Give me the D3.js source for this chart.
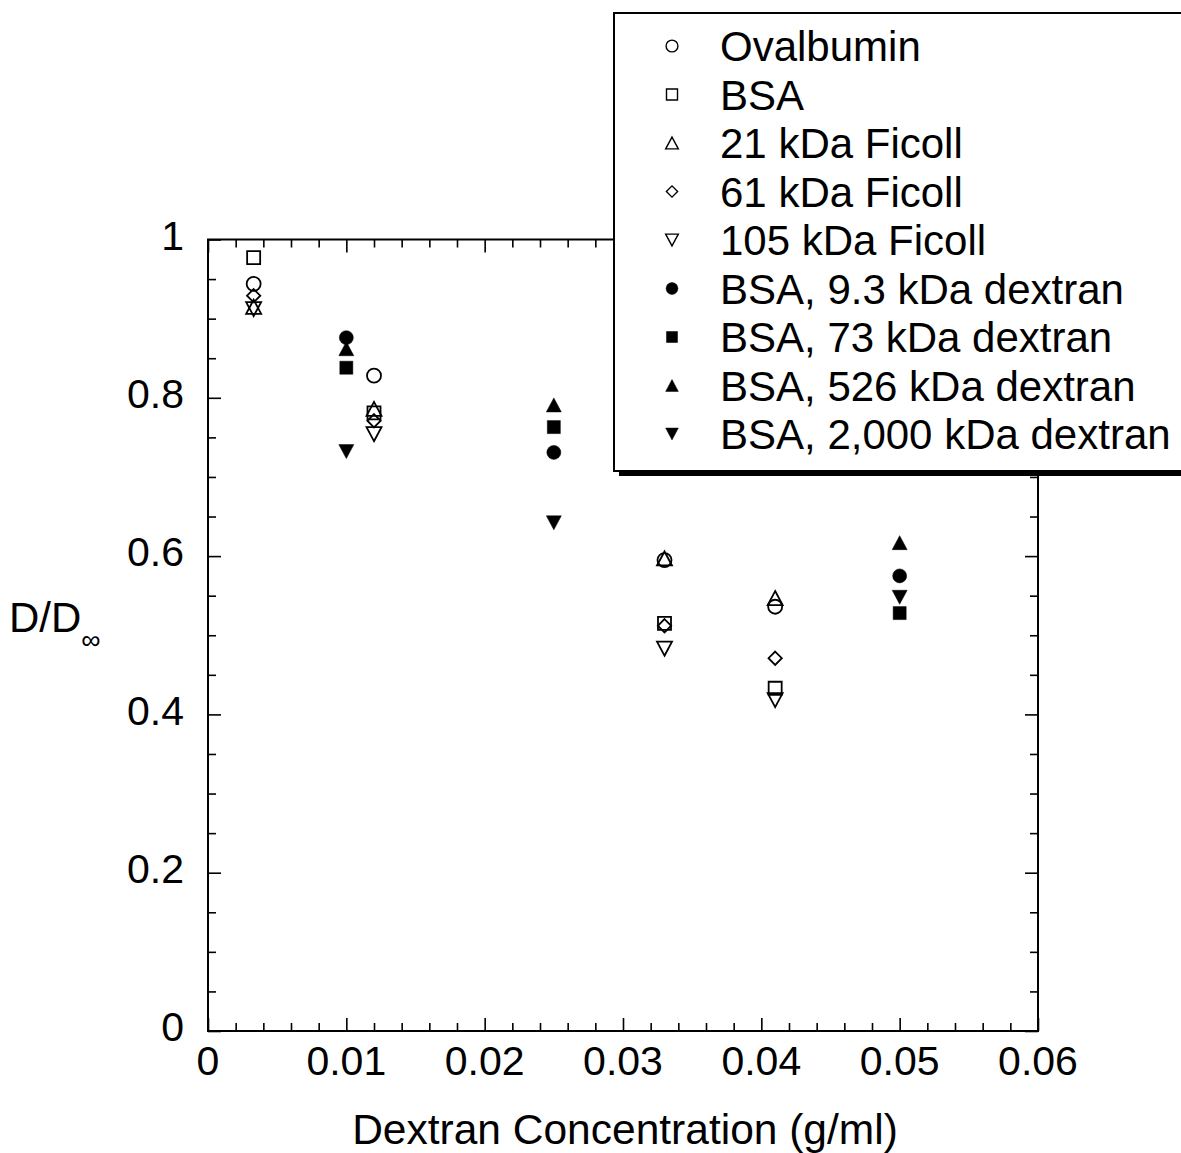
<!DOCTYPE html>
<html>
<head>
<meta charset="utf-8">
<script src="https://cdn.jsdelivr.net/npm/d3@7"></script>
<style>
body { margin: 0; background: #fff; }
text { font-family: "Liberation Sans", Arial, Helvetica, sans-serif; fill: #000; }
</style>
</head>
<body>
<div id="chart"></div>
<script>
// open symbols: single proteins / Ficolls
var concOpen = [0.0033, 0.012, 0.033, 0.041];
var ovalbumin = [0.944, 0.828, 0.595, 0.536];
var bsa = [0.977, 0.781, 0.515, 0.433];
var ficoll21 = [0.915, 0.786, 0.597, 0.547];
var ficoll61 = [0.929, 0.771, 0.512, 0.471];
var ficoll105 = [0.912, 0.754, 0.483, 0.418];

// filled symbols: BSA in dextran
var concFilled = [0.01, 0.025, 0.05];
var dex9 = [0.876, 0.731, 0.575];
var dex73 = [0.838, 0.763, 0.528];
var dex526 = [0.862, 0.791, 0.617];
var dex2000 = [0.732, 0.642, 0.548];

var seriesNames = ["Ovalbumin", "BSA", "21 kDa Ficoll", "61 kDa Ficoll", "105 kDa Ficoll",
  "BSA, 9.3 kDa dextran", "BSA, 73 kDa dextran", "BSA, 526 kDa dextran", "BSA, 2,000 kDa dextran"];
var xTicks = [0, 0.01, 0.02, 0.03, 0.04, 0.05, 0.06];
var xTickLabels = ["0", "0.01", "0.02", "0.03", "0.04", "0.05", "0.06"];
var yTicks = [0, 0.2, 0.4, 0.6, 0.8, 1];
var yTickLabels = ["0", "0.2", "0.4", "0.6", "0.8", "1"];

var series = [
  {name: seriesNames[0], xs: concOpen, ys: ovalbumin, shape: "circle", filled: false},
  {name: seriesNames[1], xs: concOpen, ys: bsa, shape: "square", filled: false},
  {name: seriesNames[2], xs: concOpen, ys: ficoll21, shape: "up", filled: false},
  {name: seriesNames[3], xs: concOpen, ys: ficoll61, shape: "diamond", filled: false},
  {name: seriesNames[4], xs: concOpen, ys: ficoll105, shape: "down", filled: false},
  {name: seriesNames[5], xs: concFilled, ys: dex9, shape: "circle", filled: true},
  {name: seriesNames[6], xs: concFilled, ys: dex73, shape: "square", filled: true},
  {name: seriesNames[7], xs: concFilled, ys: dex526, shape: "up", filled: true},
  {name: seriesNames[8], xs: concFilled, ys: dex2000, shape: "down", filled: true}
];

var w = 1181, h = 1153;
var x0 = 208, x1 = 1038, y0 = 1031, y1 = 239.5;

var x = d3.scaleLinear().domain([0, 0.06]).range([x0, x1]);
var y = d3.scaleLinear().domain([0, 1]).range([y0, y1]);

function shape(kind) {
  return {draw: function(ctx, size) {
    var r = Math.sqrt(size) / 2;
    if (kind == "circle") { ctx.moveTo(r, 0); ctx.arc(0, 0, r, 0, 2 * Math.PI); }
    else if (kind == "square") { var s = r * 0.93; ctx.rect(-s, -s, 2 * s, 2 * s); }
    else if (kind == "diamond") { var d = r * 0.95; ctx.moveTo(0, -d); ctx.lineTo(d, 0); ctx.lineTo(0, d); ctx.lineTo(-d, 0); ctx.closePath(); }
    else if (kind == "up") { ctx.moveTo(0, -r); ctx.lineTo(r * 1.07, r); ctx.lineTo(-r * 1.07, r); ctx.closePath(); }
    else if (kind == "down") { ctx.moveTo(0, r); ctx.lineTo(r * 1.07, -r); ctx.lineTo(-r * 1.07, -r); ctx.closePath(); }
  }};
}

var svg = d3.select("#chart").append("svg")
  .attr("width", w)
  .attr("height", h);

// frame
svg.append("rect")
  .attr("x", x0).attr("y", y1)
  .attr("width", x1 - x0).attr("height", y0 - y1)
  .attr("fill", "none").attr("stroke", "#000").attr("stroke-width", 2);

var xMinor = d3.range(0, 61, 2).map(function(d) { return d / 1000; }).filter(function(d, i) { return i % 5 != 0; });
var yMinor = d3.range(0, 21).map(function(d) { return d / 20; }).filter(function(d, i) { return i % 4 != 0; });

function tickAxis(axis, vals, size) {
  return axis.tickValues(vals).tickSize(-size).tickFormat("");
}

var sides = [
  ["bottom", "translate(0," + y0 + ")"],
  ["top", "translate(0," + y1 + ")"],
  ["left", "translate(" + x0 + ",0)"],
  ["right", "translate(" + x1 + ",0)"]
];
sides.forEach(function(a) {
  var isX = a[0] == "bottom" || a[0] == "top";
  var mk = function() {
    return a[0] == "bottom" ? d3.axisBottom(x) : a[0] == "top" ? d3.axisTop(x) : a[0] == "left" ? d3.axisLeft(y) : d3.axisRight(y);
  };
  svg.append("g").attr("transform", a[1])
    .call(tickAxis(mk(), isX ? xMinor : yMinor, 8));
  svg.append("g").attr("transform", a[1])
    .call(tickAxis(mk(), isX ? xTicks : yTicks, 13));
});
svg.selectAll(".domain").remove();
svg.selectAll(".tick line").attr("stroke", "#000").attr("stroke-width", 1.6);

// tick labels
svg.append("g").selectAll("text")
  .data(xTicks)
  .enter().append("text")
  .attr("x", function(d) { return x(d); })
  .attr("y", 1075)
  .attr("text-anchor", "middle")
  .attr("font-size", "41px")
  .text(function(d, i) { return xTickLabels[i]; });

svg.append("g").selectAll("text")
  .data(yTicks)
  .enter().append("text")
  .attr("x", 184)
  .attr("y", function(d) { return y(d); })
  .attr("dy", "0.25em")
  .attr("text-anchor", "end")
  .attr("font-size", "41px")
  .text(function(d, i) { return yTickLabels[i]; });

// axis titles
svg.append("text")
  .attr("x", (x0 + x1) / 2 + 2)
  .attr("y", 1144)
  .attr("text-anchor", "middle")
  .attr("font-size", "42.5px")
  .text("Dextran Concentration (g/ml)");

var yl = svg.append("text")
  .attr("x", 9)
  .attr("y", 632)
  .attr("font-size", "42px");
yl.append("tspan").text("D/D");
yl.append("tspan").attr("font-size", "27px").attr("dy", 17).text("\u221e");

// points
var sym = d3.symbol().size(196);
series.forEach(function(s) {
  svg.append("g").selectAll("path")
    .data(s.ys)
    .enter().append("path")
    .attr("transform", function(d, i) { return "translate(" + x(s.xs[i]) + "," + y(d) + ")"; })
    .attr("d", sym.type(shape(s.shape))())
    .attr("fill", s.filled ? "#000" : "none")
    .attr("stroke", "#000")
    .attr("stroke-width", s.filled ? 0.5 : 1.8);
});

// legend
var lx = 614, ly = 13, lh = 458;
svg.append("rect")
  .attr("x", lx + 5).attr("y", ly + 5)
  .attr("width", 700).attr("height", lh)
  .attr("fill", "#000");
svg.append("rect")
  .attr("x", lx).attr("y", ly)
  .attr("width", 700).attr("height", lh)
  .attr("fill", "#fff").attr("stroke", "#000").attr("stroke-width", 2);

var legend = svg.append("g").attr("class", "legend");
var lsym = d3.symbol().size(140);
legend.selectAll("path")
  .data(series)
  .enter().append("path")
  .attr("transform", function(d, i) { return "translate(672," + (46 + i * 48.5) + ")"; })
  .attr("d", function(d) { return lsym.type(shape(d.shape))(); })
  .attr("fill", function(d) { return d.filled ? "#000" : "none"; })
  .attr("stroke", "#000")
  .attr("stroke-width", function(d) { return d.filled ? 0.5 : 1.4; });

legend.selectAll("text")
  .data(series)
  .enter().append("text")
  .attr("x", 720)
  .attr("y", function(d, i) { return 46 + i * 48.5; })
  .attr("dy", "0.36em")
  .attr("font-size", "42px")
  .text(function(d) { return d.name; });
</script>
</body>
</html>
